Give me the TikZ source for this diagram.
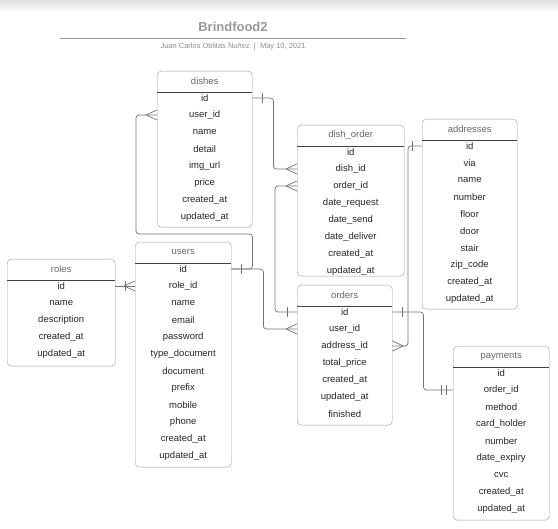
\documentclass[tikz,border=0pt]{standalone}
\usepackage{fontspec}
\setmainfont{Liberation Sans}
\usetikzlibrary{positioning,calc}

\tikzset{
  tbl/.style={draw=black!40, rounded corners=4pt, anchor=north west, inner sep=0pt},
  head/.style={text=black!60, font=\fontsize{9.5}{11}\selectfont},
  field/.style={text=black!85, font=\fontsize{9.5}{11}\selectfont, inner sep=1pt},
  sep/.style={draw=black!75, line width=0.6pt},
  conn/.style={draw=black!55, line width=0.7pt, rounded corners=3pt},
  crow/.pic={\draw[conn, rounded corners=0pt] (-11,0) -- (0,-5) (-11,0) -- (0,5);},
  onebar/.pic={\draw[conn] (-10,-5) -- (-10,5);},
  twobar/.pic={\draw[conn] (-12,-5) -- (-12,5) (-7,-5) -- (-7,5);},
}

% table: name, left, top, width, height, title, fields
\newcommand{\erTable}[7]{%
  \node[tbl, minimum width=#4pt, minimum height=#5pt] (#1) at (#2,#3) {};
  \node[head] (#1-title) at ([yshift=-10pt]#1.north) {#6};
  \draw[sep] ([yshift=-21pt]#1.north west) -- ([yshift=-21pt]#1.north east);
  \foreach \f [count=\i] in {#7}
    \path (#1.north) ++(0,{10+17*\i}) node[field] (#1-\i) {\f};
}

\begin{document}
\begin{tikzpicture}[x=1pt, y=-1pt]
  \useasboundingbox (0,0) rectangle (558,529);
  \shade[top color=black!12, bottom color=white] (0,0) rectangle (558,12);

  % Header
  \node[font=\bfseries\fontsize{13}{15}\selectfont, text=black!40] (title) at (233,27) {Brindfood2};
  \draw[black!40, line width=0.6pt] (60,38) -- (406,38);
  \node[font=\fontsize{7.5}{9}\selectfont, text=black!45] (author) at (233,47) {Juan Carlos Oblitas Nuñez \ | \ May 10, 2021};

  % Tables
  \erTable{dishes}{157}{71}{95}{156}{dishes}{id,user\_id,name,detail,img\_url,price,created\_at,updated\_at}
  \erTable{dishorder}{297}{125}{107}{151}{dish\_order}{id,dish\_id,order\_id,date\_request,date\_send,date\_deliver,created\_at,updated\_at}
  \erTable{addresses}{422}{119}{95}{190}{addresses}{id,via,name,number,floor,door,stair,zip\_code,created\_at,updated\_at}
  \erTable{roles}{7}{259}{108}{107}{roles}{id,name,description,created\_at,updated\_at}
  \erTable{users}{135}{242}{96}{225}{users}{id,role\_id,name,email,password,type\_document,document,prefix,mobile,phone,created\_at,updated\_at}
  \erTable{orders}{297}{285}{95}{140}{orders}{id,user\_id,address\_id,total\_price,created\_at,updated\_at,finished}
  \erTable{payments}{453}{346}{96}{174}{payments}{id,order\_id,method,card\_holder,number,date\_expiry,cvc,created\_at,updated\_at}

  % Relations
  \draw[conn] (dishes.west |- dishes-2) -- ++(-21,0) |- ($(users.east |- users-1)+(21,-35)$) -- ++(0,35) -- (users.east |- users-1);
  \draw[conn] (users.east |- users-1) -- ++(32,0) |- (orders.west |- orders-2);
  \draw[conn] (roles.east |- roles-1) -- (users.west |- roles-1);
  \draw[conn] (dishes.east |- dishes-1) -- ++(21,0) |- (dishorder.west |- dishorder-2);
  \draw[conn] (dishorder.west |- dishorder-3) -- ++(-22,0) |- (orders.west |- orders-1);
  \draw[conn] (addresses.west |- addresses-1) -- ++(-14,0) |- (orders.east |- orders-3);
  \draw[conn] (orders.east |- orders-1) -- ++(31,0) |- (payments.west |- payments-2);

  % Ends
  \pic at (dishes.west |- dishes-2) {crow};
  \pic[xscale=-1] at (users.east |- users-1) {onebar};
  \pic at (orders.west |- orders-2) {crow};
  \pic at (users.west |- roles-1) {crow};
  \pic at (users.west |- roles-1) {onebar};
  \pic[xscale=-1] at (dishes.east |- dishes-1) {onebar};
  \pic at (dishorder.west |- dishorder-2) {crow};
  \pic at (dishorder.west |- dishorder-3) {crow};
  \pic at (orders.west |- orders-1) {onebar};
  \pic at (addresses.west |- addresses-1) {onebar};
  \pic[xscale=-1] at (orders.east |- orders-3) {crow};
  \pic[xscale=-1] at (orders.east |- orders-1) {onebar};
  \pic at (payments.west |- payments-2) {twobar};
\end{tikzpicture}
\end{document}
